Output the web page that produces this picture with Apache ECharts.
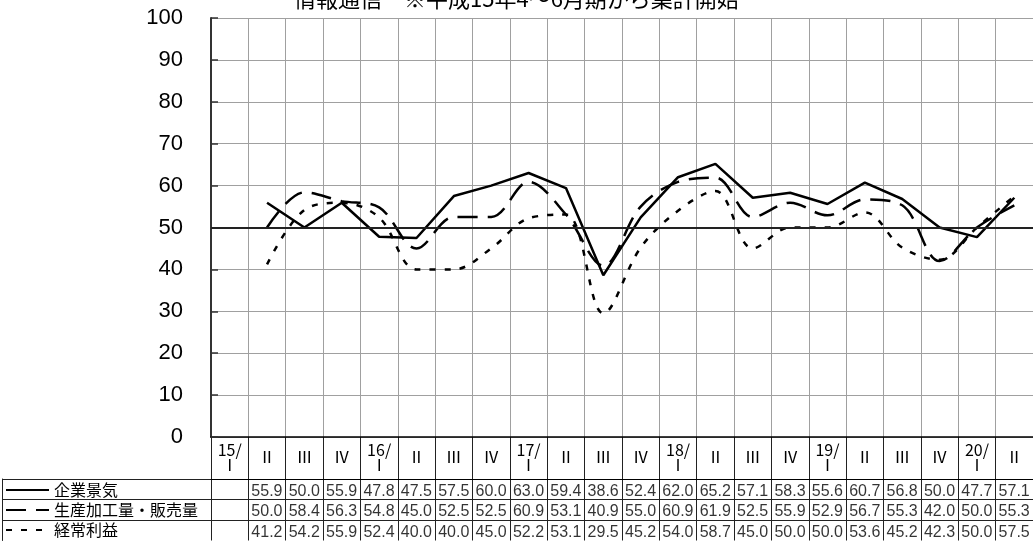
<!DOCTYPE html>
<html>
<head>
<meta charset="utf-8">
<script src="https://cdn.jsdelivr.net/npm/echarts@6/dist/echarts.min.js"></script>
<style>
html,body{margin:0;padding:0;background:#fff;}
#chart{width:1033px;height:549px;}
</style>
</head>
<body>
<div id="chart"></div>
<script>
const titleText = '情報通信　※平成15年4～6月期から集計開始';
const categories = ['15/\nⅠ','Ⅱ','Ⅲ','Ⅳ','16/\nⅠ','Ⅱ','Ⅲ','Ⅳ','17/\nⅠ','Ⅱ','Ⅲ','Ⅳ','18/\nⅠ','Ⅱ','Ⅲ','Ⅳ','19/\nⅠ','Ⅱ','Ⅲ','Ⅳ','20/\nⅠ','Ⅱ'];
const seriesNames = ['企業景気','生産加工量・販売量','経常利益'];
const kigyou  = [null,55.9,50.0,55.9,47.8,47.5,57.5,60.0,63.0,59.4,38.6,52.4,62.0,65.2,57.1,58.3,55.6,60.7,56.8,50.0,47.7,57.1];
const seisan  = [null,50.0,58.4,56.3,54.8,45.0,52.5,52.5,60.9,53.1,40.9,55.0,60.9,61.9,52.5,55.9,52.9,56.7,55.3,42.0,50.0,55.3];
const keijou  = [null,41.2,54.2,55.9,52.4,40.0,40.0,45.0,52.2,53.1,29.5,45.2,54.0,58.7,45.0,50.0,50.0,53.6,45.2,42.3,50.0,57.5];
const yTicks = {min:0, max:100, interval:10};
const baseLine = 50;

const rows = [kigyou, seisan, keijou];
const tableData = [];
rows.forEach((arr, ri) => arr.forEach((v, ci) => { if (v !== null) tableData.push([ci, ri, v]); }));

const PL = 211, PW = 823;
const chart = echarts.init(document.getElementById('chart'), null, {renderer:'canvas'});
const black = '#000';
const tableLine = {show: true, interval: 0, showMaxLine: false, lineStyle: {color: '#222', width: 1}};
const option = {
  animation: false,
  color: [black, black, black],
  textStyle: {fontFamily: "'Liberation Sans','Noto Sans CJK JP',sans-serif", color: black},
  title: {
    text: titleText, left: 289, top: -17,
    textStyle: {fontSize: 22, fontWeight: 'normal', color: black, lineHeight: 22, fontFamily: "'Noto Sans CJK JP',sans-serif"}
  },
  legend: {
    data: seriesNames, orient: 'vertical', left: 5, top: 480, padding: 0,
    itemWidth: 43, itemHeight: 2, itemGap: 0,
    itemStyle: {color: 'rgba(0,0,0,0)', borderColor: 'rgba(0,0,0,0)', borderWidth: 0},
    textStyle: {fontSize: 16, lineHeight: 20, color: black, fontFamily: "'Noto Sans CJK JP',sans-serif"},
    selectedMode: false
  },
  grid: [
    {left: PL, width: PW, top: 18, height: 419},
    {left: PL, width: PW, top: 437, height: 42},
    {left: PL, width: PW, top: 479, height: 61.5},
    {left: 2, width: PL - 2, top: 479, height: 61.5}
  ],
  xAxis: [
    {gridIndex: 0, type: 'category', data: categories, boundaryGap: true,
     axisLine: {show: true, lineStyle: {color: black, width: 1.5}},
     axisTick: {show: false},
     axisLabel: {interval: 0, margin: 20, verticalAlign: 'middle', fontSize: 16, lineHeight: 15, color: black,
                 fontFamily: "'Noto Sans CJK JP',sans-serif"},
     splitLine: {show: true, interval: 0, lineStyle: {color: '#a0a0a0', width: 1}}},
    {gridIndex: 1, type: 'category', data: categories, boundaryGap: true,
     axisLine: {show: true, lineStyle: {color: black, width: 1}}, axisTick: {show: false}, axisLabel: {show: false},
     splitLine: {show: true, interval: 0, lineStyle: {color: '#222', width: 1}}},
    {gridIndex: 2, type: 'category', data: categories, boundaryGap: true,
     axisLine: {show: false}, axisTick: {show: false}, axisLabel: {show: false},
     splitLine: {show: true, interval: 0, lineStyle: {color: '#222', width: 1}}},
    {gridIndex: 3, type: 'value', show: false}
  ],
  yAxis: [
    {gridIndex: 0, type: 'value', min: yTicks.min, max: yTicks.max, interval: yTicks.interval,
     axisLine: {show: true, lineStyle: {color: '#333', width: 2}},
     axisTick: {show: true, inside: true, length: 7, lineStyle: {color: '#333', width: 1.5}},
     axisLabel: {fontSize: 22, margin: 28, color: black, fontFamily: "'Liberation Sans',sans-serif"},
     splitLine: {show: true, lineStyle: {color: '#a0a0a0', width: 1}}},
    {gridIndex: 1, type: 'value', show: false},
    {gridIndex: 2, type: 'category', data: seriesNames, inverse: true, boundaryGap: true,
     axisLine: {show: false}, axisTick: {show: false}, axisLabel: {show: false},
     splitLine: tableLine},
    {gridIndex: 3, type: 'category', data: seriesNames, inverse: true, boundaryGap: true,
     axisLine: {show: true, lineStyle: {color: '#222', width: 1}}, axisTick: {show: false}, axisLabel: {show: false},
     splitLine: tableLine}
  ],
  series: [
    {name: seriesNames[0], type: 'line', xAxisIndex: 0, yAxisIndex: 0, data: kigyou, symbol: 'none',
     itemStyle: {color: black}, lineStyle: {color: black, width: 2.5, type: 'solid'},
     markLine: {silent: true, symbol: ['none','none'], label: {show: false},
                lineStyle: {color: '#222', width: 2.2, type: 'solid'}, data: [{yAxis: baseLine}]}},
    {name: seriesNames[1], type: 'line', xAxisIndex: 0, yAxisIndex: 0, data: seisan, symbol: 'none', smooth: 0.35,
     itemStyle: {color: black}, lineStyle: {color: black, width: 2.5, type: [20, 10]}},
    {name: seriesNames[2], type: 'line', xAxisIndex: 0, yAxisIndex: 0, data: keijou, symbol: 'none', smooth: 0.35,
     itemStyle: {color: black}, lineStyle: {color: black, width: 2.5, type: [6, 9]}},
    {name: 'table', type: 'scatter', xAxisIndex: 2, yAxisIndex: 2, data: tableData, symbolSize: 1,
     itemStyle: {color: 'rgba(0,0,0,0)'}, silent: true,
     label: {show: true, position: 'inside', align: 'left', verticalAlign: 'middle', offset: [-15.7, 2],
             fontSize: 16, color: black, fontFamily: "'Liberation Sans',sans-serif",
             formatter: p => p.value[2].toFixed(1)}}
  ]
};
chart.setOption(option);
</script>
</body>
</html>
